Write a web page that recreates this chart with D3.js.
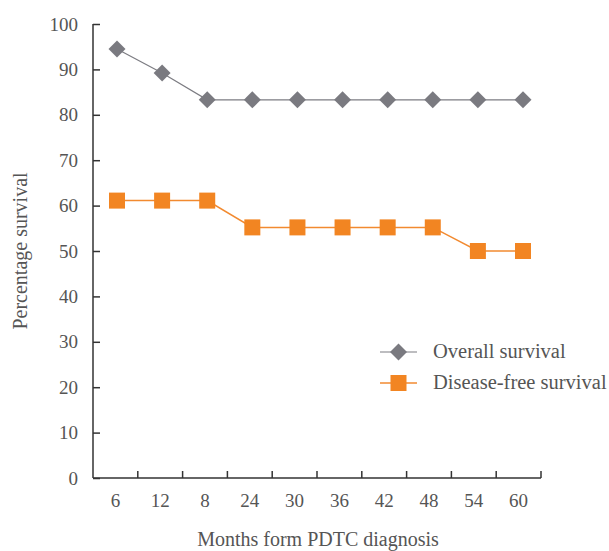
<!DOCTYPE html>
<html><head><meta charset="utf-8">
<script src="https://cdn.jsdelivr.net/npm/d3@7"></script>
<style>body{margin:0;background:#fff}svg{display:block}</style>
</head><body>
<svg id="c" width="609" height="551"></svg>
<script>
const categories = ["6","12","8","24","30","36","42","48","54","60"];
const overall = [94.5, 89.2, 83.3, 83.3, 83.3, 83.3, 83.3, 83.3, 83.3, 83.3];
const diseaseFree = [61.1, 61.1, 61.1, 55.2, 55.2, 55.2, 55.2, 55.2, 50.0, 50.0];
const yTicks = [0,10,20,30,40,50,60,70,80,90,100];
const seriesNames = ["Overall survival", "Disease-free survival"];

(function(){
const svg = d3.select("#c");
const font = "'Liberation Serif', 'Times New Roman', serif";
const mL = 93, mR = 541, mT = 24, mB = 478;
const x = d3.scaleBand().domain(categories).range([mL, mR]);
const xp = d3.scalePoint().domain(categories).range([117, 523]);
const y = d3.scaleLinear().domain([0,100]).range([mB, mT]);

// y axis
const ya = svg.append("g").attr("transform", `translate(${mL},0)`)
  .call(d3.axisLeft(y).tickValues(yTicks).tickSize(-7).tickPadding(20));
ya.select(".domain").attr("stroke", "#333").attr("stroke-width", 1.5).attr("d", `M0,${mT}V${mB}`);
ya.selectAll(".tick line").attr("stroke", "#333").attr("stroke-width", 1.5);
ya.selectAll(".tick text").attr("font-family", font).attr("font-size", 19).attr("fill", "#555").attr("x", -15);

// x axis
const xa = svg.append("g").attr("transform", `translate(0,${mB})`)
  .call(d3.axisBottom(x).tickSize(0).tickPadding(16));
xa.select(".domain").attr("stroke", "#333").attr("stroke-width", 1.5).attr("d", `M${mL},0H${mR}`);
xa.selectAll(".tick text").attr("font-family", font).attr("font-size", 19).attr("fill", "#555");
// boundary ticks
const bounds = categories.map(c => x(c) + x.bandwidth());
svg.append("g").selectAll("line").data(bounds).join("line")
  .attr("x1", d => d).attr("x2", d => d).attr("y1", mB).attr("y2", mB - 7)
  .attr("stroke", "#333").attr("stroke-width", 1.5);

const cx = c => xp(c);
const line = d3.line().x((d,i) => cx(categories[i])).y(d => y(d));

svg.append("path").datum(overall).attr("d", line).attr("fill","none").attr("stroke","#7c7c82").attr("stroke-width",1.2);
svg.append("path").datum(diseaseFree).attr("d", line).attr("fill","none").attr("stroke","#f28a30").attr("stroke-width",1.5);

const dsz = 12;
svg.append("g").selectAll("rect").data(overall).join("rect")
  .attr("x", -dsz/2).attr("y", -dsz/2).attr("width", dsz).attr("height", dsz)
  .attr("transform", (d,i) => `translate(${cx(categories[i])},${y(d)}) rotate(45)`)
  .attr("fill", "#7a7a80");
const ssz = 16;
svg.append("g").selectAll("rect").data(diseaseFree).join("rect")
  .attr("x", (d,i) => cx(categories[i]) - ssz/2).attr("y", d => y(d) - ssz/2)
  .attr("width", ssz).attr("height", ssz).attr("fill", "#f28522");

// axis titles
svg.append("text").attr("transform", "translate(27,251) rotate(-90)").attr("text-anchor","middle")
  .attr("font-family", font).attr("font-size", 20).attr("fill", "#555").text("Percentage survival");
svg.append("text").attr("x", 318).attr("y", 546).attr("text-anchor","middle")
  .attr("font-family", font).attr("font-size", 20).attr("fill", "#555").text("Months form PDTC diagnosis");

// legend
const leg = svg.append("g");
const ly = [352, 383];
leg.append("line").attr("x1",380).attr("x2",417).attr("y1",ly[0]).attr("y2",ly[0]).attr("stroke","#7c7c82").attr("stroke-width",1.2);
leg.append("rect").attr("x",-dsz/2).attr("y",-dsz/2).attr("width",dsz).attr("height",dsz)
  .attr("transform",`translate(398.5,${ly[0]}) rotate(45)`).attr("fill","#7a7a80");
leg.append("line").attr("x1",380).attr("x2",417).attr("y1",ly[1]).attr("y2",ly[1]).attr("stroke","#f28a30").attr("stroke-width",1.5);
leg.append("rect").attr("x",398.5-ssz/2).attr("y",ly[1]-ssz/2).attr("width",ssz).attr("height",ssz).attr("fill","#f28522");
leg.selectAll("text.l").data(seriesNames).join("text").attr("class","l")
  .attr("x",433).attr("y",(d,i)=>ly[i]+6).attr("font-family",font).attr("font-size",20.5).attr("fill","#555").text(d=>d);
})();
</script>
</body></html>
